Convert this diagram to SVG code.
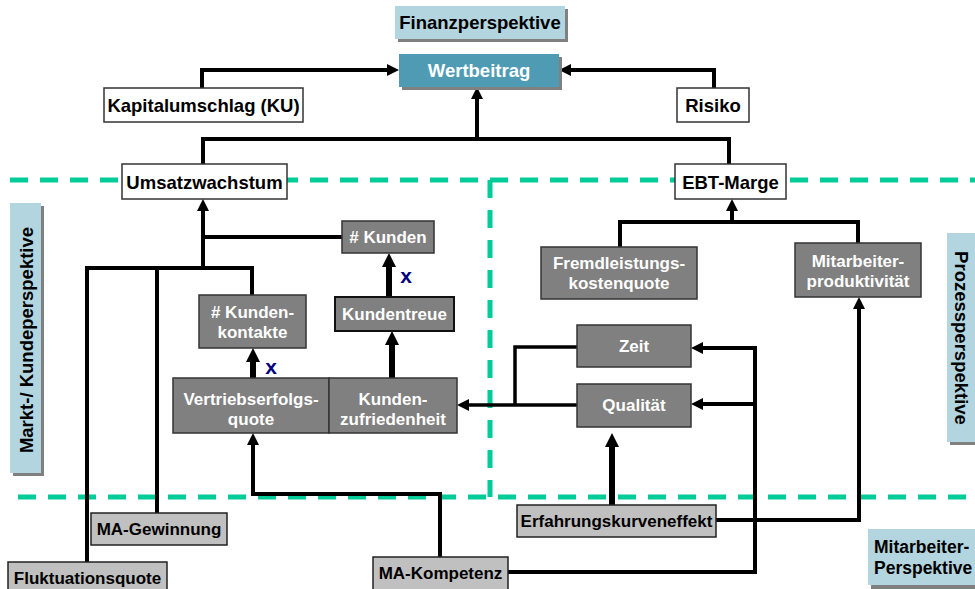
<svg xmlns="http://www.w3.org/2000/svg" width="975" height="589" viewBox="0 0 975 589">
  <style>
    text { font-family: "Liberation Sans", Arial, sans-serif; font-weight: bold; text-anchor: middle; }
    .t18 { font-size: 18.5px; fill: #000; }
    .t17 { font-size: 17px; fill: #000; }
    .w17 { font-size: 17px; fill: #fff; }
    .w18 { font-size: 18.5px; fill: #fff; }
    .white { fill: #fff; stroke: #333; stroke-width: 1.5; }
    .gray { fill: #808080; stroke: #333; stroke-width: 1.5; }
    .lgray { fill: #c0c0c0; stroke: #222; stroke-width: 1.5; }
    .blue { fill: #b2d5df; }
    .teal { fill: #4f9bb4; }
    .shadow { fill: #808080; }
    .dash { fill: none; stroke: #00cc99; stroke-width: 5; stroke-dasharray: 18 12; }
    .c4 { fill: none; stroke: #000; stroke-width: 4; stroke-linejoin: miter; }
    .c3 { fill: none; stroke: #000; stroke-width: 3.5; stroke-linejoin: miter; }
    .c6 { fill: none; stroke: #000; stroke-width: 6; }
    .x { font-size: 21px; fill: #000080; }
  </style>
  <defs>
    <marker id="ah" markerUnits="userSpaceOnUse" markerWidth="12" markerHeight="12" refX="0" refY="6" orient="auto">
      <path d="M0,0 L12,6 L0,12 z" fill="#000"/>
    </marker>
    <marker id="ahBig" markerUnits="userSpaceOnUse" markerWidth="14" markerHeight="14" refX="0" refY="7" orient="auto">
      <path d="M0,0 L14,7 L0,14 z" fill="#000"/>
    </marker>
  </defs>

  <!-- perspective separators -->
  <g id="separators">
    <path class="dash" d="M10,180 H975"/>
    <path class="dash" d="M18,497 H975"/>
    <path class="dash" d="M490,180 V497"/>
  </g>

  <!-- perspective labels -->
  <g id="label-finanz">
    <rect class="shadow" x="398" y="9" width="170" height="33"/>
    <rect class="blue" x="395" y="6" width="170" height="33"/>
    <text class="t18" x="480" y="29">Finanzperspektive</text>
  </g>
  <g id="label-markt">
    <rect class="shadow" x="13" y="206" width="31" height="270"/>
    <rect class="blue" x="10" y="203" width="31" height="270"/>
    <text class="t18" transform="translate(33,340) rotate(-90)">Markt-/ Kundeperspektive</text>
  </g>
  <g id="label-prozess">
    <rect class="shadow" x="950" y="236" width="30" height="209"/>
    <rect class="blue" x="947" y="233" width="30" height="209"/>
    <text class="t18" transform="translate(955,338) rotate(90)">Prozessperspektive</text>
  </g>
  <g id="label-mitarbeiter">
    <rect class="shadow" x="871" y="532" width="110" height="57"/>
    <rect class="blue" x="868" y="529" width="110" height="56"/>
    <text class="t18" x="874" y="553" style="text-anchor:start;font-size:17.5px">Mitarbeiter-</text>
    <text class="t18" x="874" y="574" style="text-anchor:start;font-size:17.5px">Perspektive</text>
  </g>

  <!-- connectors -->
  <g id="connectors">
    <path class="c4" d="M202,88 V70 H387" marker-end="url(#ah)"/>
    <path class="c4" d="M714,88 V70 H571" marker-end="url(#ah)"/>
    <path class="c4" d="M203,164 V139 H729 V164"/>
    <path class="c4" d="M477,139 V99" marker-end="url(#ah)"/>

    <path class="c4" d="M203,268 V211" marker-end="url(#ah)"/>
    <path class="c4" d="M203,237 H342"/>
    <path class="c4" d="M87,562 V268 H252 V295"/>
    <path class="c4" d="M157,513 V268"/>

    <path class="c6" d="M253,378 V362" marker-end="url(#ahBig)"/>
    <path class="c6" d="M389,297 V267" marker-end="url(#ahBig)"/>
    <path class="c6" d="M392,378 V345" marker-end="url(#ahBig)"/>

    <path class="c3" d="M577,405 H469" marker-end="url(#ah)"/>
    <path class="c3" d="M577,347 H515 V405"/>

    <path class="c4" d="M508,572 H755 V348 H703" marker-end="url(#ah)"/>
    <path class="c4" d="M755,404 H703" marker-end="url(#ah)"/>

    <path class="c6" d="M612,505 V447" marker-end="url(#ahBig)"/>
    <path class="c4" d="M716,520 H859 V309" marker-end="url(#ah)"/>

    <path class="c4" d="M620,247 V222 H858 V243"/>
    <path class="c4" d="M732,222 V211" marker-end="url(#ah)"/>

    <path class="c4" d="M440,557 V494 H253 V445" marker-end="url(#ah)"/>
  </g>

  <!-- multiplication marks -->
  <text class="x" x="271" y="374">x</text>
  <text class="x" x="406" y="283">x</text>

  <!-- financial nodes -->
  <g id="wertbeitrag">
    <rect class="shadow" x="402" y="57" width="160" height="33"/>
    <rect class="teal" x="399" y="54" width="160" height="33"/>
    <text class="w18" x="479" y="77">Wertbeitrag</text>
  </g>
  <g id="kapitalumschlag">
    <rect class="white" x="104" y="88" width="199" height="34"/>
    <text class="t18" x="203.5" y="112">Kapitalumschlag (KU)</text>
  </g>
  <g id="risiko">
    <rect class="white" x="677" y="88" width="72" height="34"/>
    <text class="t18" x="713" y="112">Risiko</text>
  </g>
  <g id="umsatzwachstum">
    <rect class="white" x="122" y="164" width="165" height="35"/>
    <text class="t18" x="204.5" y="189">Umsatzwachstum</text>
  </g>
  <g id="ebt-marge">
    <rect class="white" x="675" y="164" width="111" height="35"/>
    <text class="t18" x="730.5" y="189">EBT-Marge</text>
  </g>

  <!-- customer nodes -->
  <g id="kunden">
    <rect class="gray" x="342" y="221" width="92" height="32"/>
    <text class="w17" x="388" y="243"># Kunden</text>
  </g>
  <g id="kundentreue">
    <rect class="gray" x="335" y="297" width="119" height="34" style="stroke:#111;stroke-width:2"/>
    <text class="w17" x="394.5" y="320">Kundentreue</text>
  </g>
  <g id="kundenkontakte">
    <rect class="gray" x="199" y="295" width="107" height="53"/>
    <text class="w17" x="252.5" y="318"># Kunden-</text>
    <text class="w17" x="252.5" y="338">kontakte</text>
  </g>
  <g id="vertriebserfolgsquote">
    <rect class="gray" x="173" y="378" width="156" height="55"/>
    <text class="w17" x="251" y="405">Vertriebserfolgs-</text>
    <text class="w17" x="251" y="425">quote</text>
  </g>
  <g id="kundenzufriedenheit">
    <rect class="gray" x="329" y="378" width="128" height="55"/>
    <text class="w17" x="393" y="405">Kunden-</text>
    <text class="w17" x="393" y="425">zufriedenheit</text>
  </g>

  <!-- process nodes -->
  <g id="fremdleistungskostenquote">
    <rect class="gray" x="541" y="247" width="156" height="52"/>
    <text class="w17" x="619" y="269">Fremdleistungs-</text>
    <text class="w17" x="619" y="289">kostenquote</text>
  </g>
  <g id="mitarbeiterproduktivitaet">
    <rect class="gray" x="795" y="243" width="126" height="54"/>
    <text class="w17" x="858" y="267">Mitarbeiter-</text>
    <text class="w17" x="858" y="287">produktivität</text>
  </g>
  <g id="zeit">
    <rect class="gray" x="577" y="325" width="114" height="42"/>
    <text class="w17" x="634" y="352">Zeit</text>
  </g>
  <g id="qualitaet">
    <rect class="gray" x="577" y="384" width="114" height="43"/>
    <text class="w17" x="634" y="411">Qualität</text>
  </g>

  <!-- employee nodes -->
  <g id="erfahrungskurveneffekt">
    <rect class="lgray" x="517" y="505" width="199" height="32"/>
    <text class="t17" x="616.5" y="527">Erfahrungskurveneffekt</text>
  </g>
  <g id="ma-gewinnung">
    <rect class="lgray" x="91" y="513" width="136" height="32"/>
    <text class="t17" x="159" y="535">MA-Gewinnung</text>
  </g>
  <g id="ma-kompetenz">
    <rect class="lgray" x="373" y="557" width="135" height="34"/>
    <text class="t17" x="440.5" y="579">MA-Kompetenz</text>
  </g>
  <g id="fluktuationsquote">
    <rect class="lgray" x="8" y="562" width="159" height="32"/>
    <text class="t17" x="87.5" y="584">Fluktuationsquote</text>
  </g>
</svg>
